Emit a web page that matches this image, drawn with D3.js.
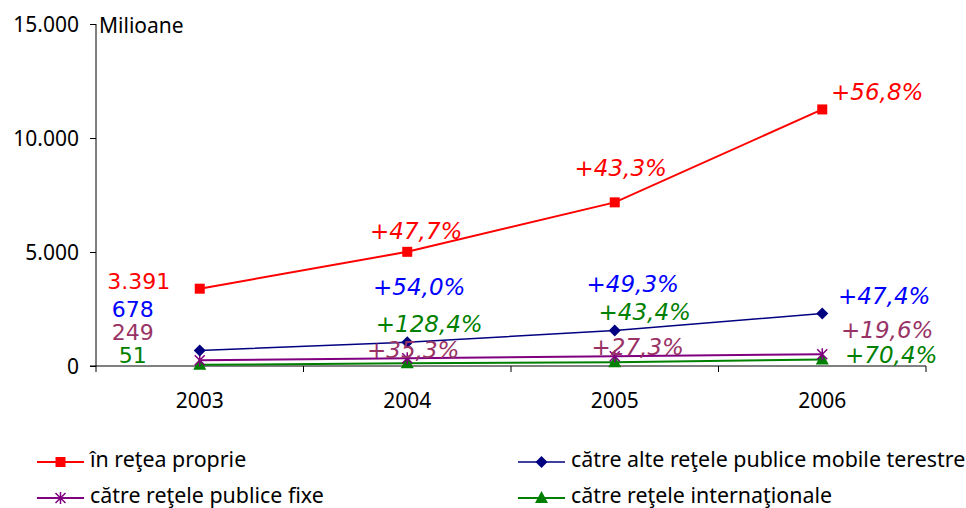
<!DOCTYPE html>
<html>
<head>
<meta charset="utf-8">
<script src="https://cdn.jsdelivr.net/npm/d3@7"></script>
<style>
  html, body { margin: 0; padding: 0; background: #fff; }
  svg { display: block; }
  text { font-family: "DejaVu Sans", Verdana, sans-serif; }
  .tah { font-family: "Noto Sans", "DejaVu Sans", sans-serif; }
</style>
</head>
<body>
<svg id="chart" width="966" height="508"></svg>
<script>
// ---- data ----
const years = ["2003", "2004", "2005", "2006"];
const seriesNames = ["în reţea proprie", "către alte reţele publice mobile terestre", "către reţele publice fixe", "către reţele internaţionale"];
const valProprie = [3391, 5008, 7177, 11253];
const valMobile = [678, 1044, 1559, 2298];
const valFixe = [249, 337, 429, 513];
const valIntl = [51, 116, 167, 284];
const growthProprie = ["", "+47,7%", "+43,3%", "+56,8%"];
const growthMobile = ["", "+54,0%", "+49,3%", "+47,4%"];
const growthFixe = ["", "+35,3%", "+27,3%", "+19,6%"];
const growthIntl = ["", "+128,4%", "+43,4%", "+70,4%"];
const yTicks = [0, 5000, 10000, 15000];
const yUnit = "Milioane";

// ---- styling / layout ----
const W = 966, H = 508;
const plot = { left: 96, right: 926, top: 24, bottom: 366 };
const styles = [
  { line: "#FF0000", marker: "#FF0000", label: "#FF0000", base: "#FF0000", shape: "square", width: 2 },
  { line: "#000080", marker: "#000080", label: "#0000FF", base: "#0000FF", shape: "diamond", width: 1.5 },
  { line: "#800080", marker: "#800080", label: "#993366", base: "#993366", shape: "star", width: 2 },
  { line: "#008000", marker: "#008000", label: "#008000", base: "#008000", shape: "triangle", width: 2 }
];
// label offsets (dx from point center, dy baseline from point)
const labelOffsets = [
  [[-61, 0], [9, -13], [6, -26], [55, -9]],
  [[-67, -34], [12, -47], [18, -38], [62, -10]],
  [[-67, -20], [6, 0], [23, -1], [65, -16]],
  [[-67, -2], [22, -31], [30, -42], [69, 3]]
];

const series = [
  { name: seriesNames[0], values: valProprie, growth: growthProprie },
  { name: seriesNames[1], values: valMobile, growth: growthMobile },
  { name: seriesNames[2], values: valFixe, growth: growthFixe },
  { name: seriesNames[3], values: valIntl, growth: growthIntl }
];

const loc = d3.formatLocale({ decimal: ",", thousands: ".", grouping: [3], currency: ["", ""] });
const fmt = loc.format(",");

const svg = d3.select("#chart");
const x = d3.scaleBand().domain(years).range([plot.left, plot.right]);
const xc = d => x(d) + x.bandwidth() / 2;
const y = d3.scaleLinear().domain([0, 15000]).range([plot.bottom, plot.top]);

// y axis
const yAxis = d3.axisLeft(y).tickValues(yTicks).tickFormat(fmt).tickSize(6).tickPadding(11);
const gy = svg.append("g").attr("transform", `translate(${plot.left},0)`).call(yAxis);
gy.select(".domain").attr("d", `M0,${plot.top}V${plot.bottom}`).attr("stroke", "#000");
gy.selectAll(".tick line").attr("stroke", "#000");
gy.selectAll(".tick text").attr("font-size", 21).attr("fill", "#000").attr("class", "tah")
  .attr("font-family", null).attr("dy", "0.36em");

// x axis
const xBounds = years.map(d => x(d)).concat([plot.right]);
const gx = svg.append("g").attr("transform", `translate(0,${plot.bottom})`);
gx.append("line").attr("x1", plot.left - 6).attr("x2", plot.right).attr("y1", 0).attr("y2", 0).attr("stroke", "#000");
gx.selectAll("line.tk").data(xBounds).enter().append("line").attr("class", "tk")
  .attr("x1", d => d).attr("x2", d => d).attr("y1", 0).attr("y2", 6).attr("stroke", "#000");
gx.selectAll("text").data(years).enter().append("text").attr("class", "tah")
  .attr("x", d => xc(d)).attr("y", 42).attr("text-anchor", "middle")
  .attr("font-size", 21).attr("fill", "#000").text(d => d);

// unit label
svg.append("text").attr("class", "tah").attr("x", 99).attr("y", 33).attr("font-size", 21).attr("fill", "#000").text(yUnit);

// markers
function drawMarker(g, shape, color, cx, cy) {
  if (shape === "square") {
    g.append("rect").attr("x", cx - 5).attr("y", cy - 5).attr("width", 10).attr("height", 10).attr("fill", color);
  } else if (shape === "diamond") {
    g.append("path").attr("d", `M${cx},${cy - 6}L${cx + 6},${cy}L${cx},${cy + 6}L${cx - 6},${cy}Z`).attr("fill", color);
  } else if (shape === "triangle") {
    g.append("path").attr("d", `M${cx},${cy - 7}L${cx + 6.5},${cy + 5}L${cx - 6.5},${cy + 5}Z`).attr("fill", color);
  } else if (shape === "star") {
    g.append("path").attr("d", `M${cx - 5},${cy - 5}L${cx + 5},${cy + 5}M${cx + 5},${cy - 5}L${cx - 5},${cy + 5}M${cx},${cy - 6}V${cy + 6}`)
      .attr("stroke", color).attr("stroke-width", 1.5).attr("fill", "none");
  }
}

const line = d3.line().x(d => xc(d.year)).y(d => y(d.v));

// draw series in reverse order so red is on top
[3, 2, 1, 0].forEach(i => {
  const s = series[i], st = styles[i];
  const pts = years.map((yr, j) => ({ year: yr, v: s.values[j] }));
  const g = svg.append("g");
  g.append("path").datum(pts).attr("d", line).attr("fill", "none")
    .attr("stroke", st.line).attr("stroke-width", st.width);
  pts.forEach(p => drawMarker(g, st.shape, st.marker, xc(p.year), y(p.v)));
});

// labels
series.forEach((s, i) => {
  const st = styles[i];
  years.forEach((yr, j) => {
    const [dx, dy] = labelOffsets[i][j];
    const px = xc(yr) + dx, py = y(s.values[j]) + dy;
    if (j === 0) {
      svg.append("text").attr("x", px).attr("y", py).attr("text-anchor", "middle")
        .attr("font-size", 22).attr("fill", st.base).text(fmt(s.values[j]));
    } else {
      svg.append("text").attr("x", px).attr("y", py).attr("text-anchor", "middle")
        .attr("font-size", 23).attr("font-style", "italic").attr("fill", st.label).text(s.growth[j]);
    }
  });
});

// legend
const legendPos = [[37, 462], [518, 462], [37, 498], [518, 498]];
series.forEach((s, i) => {
  const st = styles[i];
  const [lx, ly] = legendPos[i];
  const g = svg.append("g");
  g.append("line").attr("x1", lx).attr("x2", lx + 47).attr("y1", ly).attr("y2", ly)
    .attr("stroke", st.line).attr("stroke-width", st.width);
  drawMarker(g, st.shape, st.marker, lx + 23.5, ly);
  g.append("text").attr("class", "tah").attr("x", lx + 53).attr("y", ly + 5)
    .attr("font-size", 21.4).attr("fill", "#000").text(s.name);
});
</script>
</body>
</html>
